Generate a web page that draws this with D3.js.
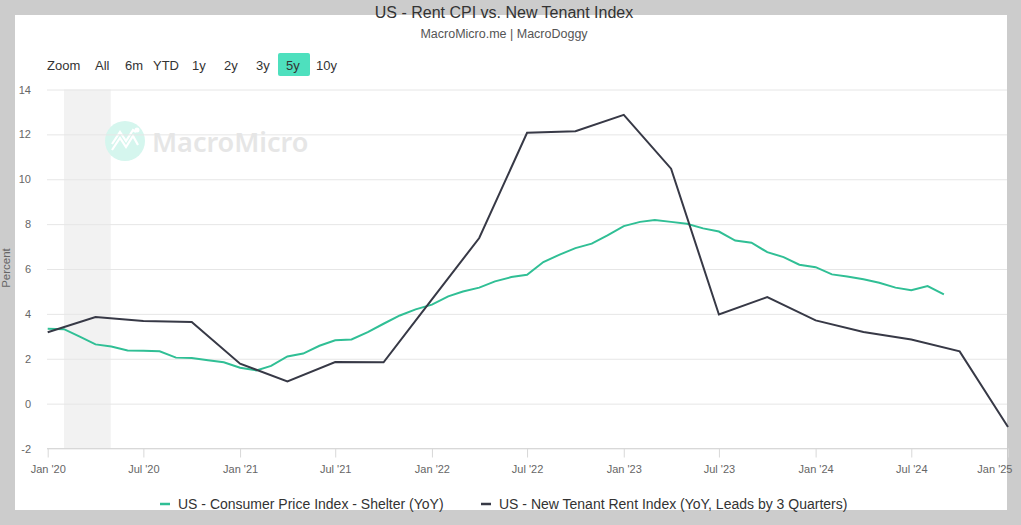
<!DOCTYPE html>
<html>
<head>
<meta charset="utf-8">
<script src="https://cdn.jsdelivr.net/npm/d3@7"></script>
<style>
  body { margin: 0; background: #cccccc; }
  svg { display: block; font-family: "Liberation Sans", Arial, sans-serif; }
</style>
</head>
<body>
<svg id="chart" width="1021" height="525"></svg>
<script>
// monthly CPI shelter YoY, Jan 2020 .. Sep 2024
const shelterStart = new Date(2020, 0, 1);
const shelterValues = [
  3.34, 3.32, 3.0, 2.64, 2.55, 2.37, 2.36, 2.33, 2.05, 2.03, 1.93, 1.84,
  1.6, 1.48, 1.68, 2.1, 2.23, 2.58, 2.82, 2.86, 3.19, 3.56, 3.93, 4.2,
  4.41, 4.78, 5.0, 5.17, 5.45, 5.64, 5.74, 6.31, 6.64, 6.93, 7.13, 7.5,
  7.91, 8.1, 8.18, 8.1, 8.02, 7.81, 7.67, 7.27, 7.17, 6.75, 6.53, 6.19,
  6.08, 5.76, 5.67, 5.54, 5.39, 5.17, 5.05, 5.24, 4.87
];
// quarterly new tenant rent index YoY (shifted 3 quarters), Jan 2020 .. Jan 2025
const tenantStart = new Date(2020, 0, 1);
const tenantValues = [
  3.18, 3.86, 3.68, 3.64,
  1.78, 0.99, 1.85, 1.84,
  4.65, 7.38, 12.07, 12.14,
  12.87, 10.47, 3.97, 4.75,
  3.71, 3.19, 2.86, 2.33,
  -1.04
];
const seriesNames = [
  "US - Consumer Price Index - Shelter (YoY)",
  "US - New Tenant Rent Index (YoY, Leads by 3 Quarters)"
];
const xTickDates = d3.range(0, 11).map(i => new Date(2020, i * 6, 1));
const xTickLabels = ["Jan '20", "Jul '20", "Jan '21", "Jul '21", "Jan '22", "Jul '22",
  "Jan '23", "Jul '23", "Jan '24", "Jul '24", "Jan '25"];
const yTicks = [-2, 0, 2, 4, 6, 8, 10, 12, 14];
const recession = [new Date(2020, 1, 1), new Date(2020, 3, 30)];
const zoomButtons = ["All", "6m", "YTD", "1y", "2y", "3y", "5y", "10y"];

const shelter = shelterValues.map((v, i) => ({ date: d3.timeMonth.offset(shelterStart, i), value: v }));
const tenant = tenantValues.map((v, i) => ({ date: d3.timeMonth.offset(tenantStart, i * 3), value: v }));

const green = "#30bf95", dark = "#373946";
const svg = d3.select("#chart");

svg.append("rect").attr("x", 15).attr("y", 15).attr("width", 992).attr("height", 495).attr("fill", "#fff");

const x = d3.scaleTime().domain([new Date(2020, 0, 1), new Date(2025, 0, 1)]).range([47.7, 1008]);
const y = d3.scaleLinear().domain([-2, 14]).range([448.5, 89.5]);

// title
svg.append("text").attr("x", 504).attr("y", 18).attr("text-anchor", "middle")
  .attr("font-size", 16).attr("fill", "#333").text("US - Rent CPI vs. New Tenant Index");
svg.append("text").attr("x", 504).attr("y", 38).attr("text-anchor", "middle")
  .attr("font-size", 12.5).attr("fill", "#555").text("MacroMicro.me | MacroDoggy");

// range selector
const btnX = [95, 125, 153, 192, 224, 256, 286, 316];
svg.append("text").attr("x", 47).attr("y", 70).attr("font-size", 13).attr("fill", "#333").text("Zoom");
zoomButtons.forEach((b, i) => {
  if (b === "5y") {
    svg.append("rect").attr("x", 278).attr("y", 53).attr("width", 32).attr("height", 23)
      .attr("rx", 2).attr("fill", "#4ee0be");
  }
  svg.append("text").attr("x", btnX[i]).attr("y", 70).attr("font-size", 13)
    .attr("fill", "#333").text(b);
});

// recession band
svg.append("rect").attr("x", x(recession[0])).attr("y", y(14))
  .attr("width", x(recession[1]) - x(recession[0])).attr("height", y(-2) - y(14))
  .attr("fill", "#f2f2f2");

// watermark
const wm = svg.append("g");
wm.append("circle").attr("cx", 125).attr("cy", 141).attr("r", 20).attr("fill", "#d5f6ee");
wm.append("path").attr("d", "M112,150 L120,138 L126,147 L133,136 L138,145 M112,144 L120,132 L126,141 L133,130 L136,132")
  .attr("fill", "none").attr("stroke", "#fff").attr("stroke-width", 2.2);
wm.append("circle").attr("cx", 137).attr("cy", 130).attr("r", 2.5).attr("fill", "#fff");
wm.append("text").attr("x", 152).attr("y", 152).attr("font-family", "'Noto Sans', sans-serif")
  .attr("font-size", 27).attr("font-weight", 600).attr("fill", "#e6e6e6").text("MacroMicro");

// y grid + labels
const yAxis = svg.append("g").attr("transform", "translate(47,0)")
  .call(d3.axisLeft(y).tickValues(yTicks).tickSize(-960).tickPadding(16).tickFormat(d => String(d)));
yAxis.select(".domain").remove();
yAxis.selectAll("line").attr("stroke", "#e6e6e6");
yAxis.selectAll("text").attr("font-size", 11).attr("fill", "#666")
  .attr("font-family", "'Liberation Sans', Arial, sans-serif");

svg.append("text").attr("transform", "translate(10,268) rotate(-90)").attr("text-anchor", "middle")
  .attr("font-size", 11.5).attr("fill", "#666").text("Percent");

// x axis
const xAxis = svg.append("g").attr("transform", "translate(0,448.5)")
  .call(d3.axisBottom(x).tickValues(xTickDates).tickFormat((d, i) => xTickLabels[i]).tickSize(9).tickPadding(8));
xAxis.select(".domain").attr("stroke", "#d8d8d8").attr("d", "M47,0H1007");
xAxis.selectAll("line").attr("stroke", "#d8d8d8");
xAxis.selectAll("text").attr("font-size", 11).attr("fill", "#666")
  .attr("font-family", "'Liberation Sans', Arial, sans-serif");
// keep the last label inside the frame
xAxis.selectAll(".tick").filter((d, i) => i === xTickDates.length - 1)
  .select("text").attr("text-anchor", "end").attr("x", 4);

// lines
const line = d3.line().x(d => x(d.date)).y(d => y(d.value));
svg.append("path").datum(shelter).attr("d", line).attr("fill", "none")
  .attr("stroke", green).attr("stroke-width", 2);
svg.append("path").datum(tenant).attr("d", line).attr("fill", "none")
  .attr("stroke", dark).attr("stroke-width", 2);

// legend
const legendX = [160, 481];
[green, dark].forEach((c, i) => {
  svg.append("line").attr("x1", legendX[i]).attr("x2", legendX[i] + 10).attr("y1", 504).attr("y2", 504)
    .attr("stroke", c).attr("stroke-width", 2.5);
  svg.append("text").attr("x", legendX[i] + 18).attr("y", 509).attr("font-size", 14)
    .attr("fill", "#333").text(seriesNames[i]);
});
</script>
</body>
</html>
